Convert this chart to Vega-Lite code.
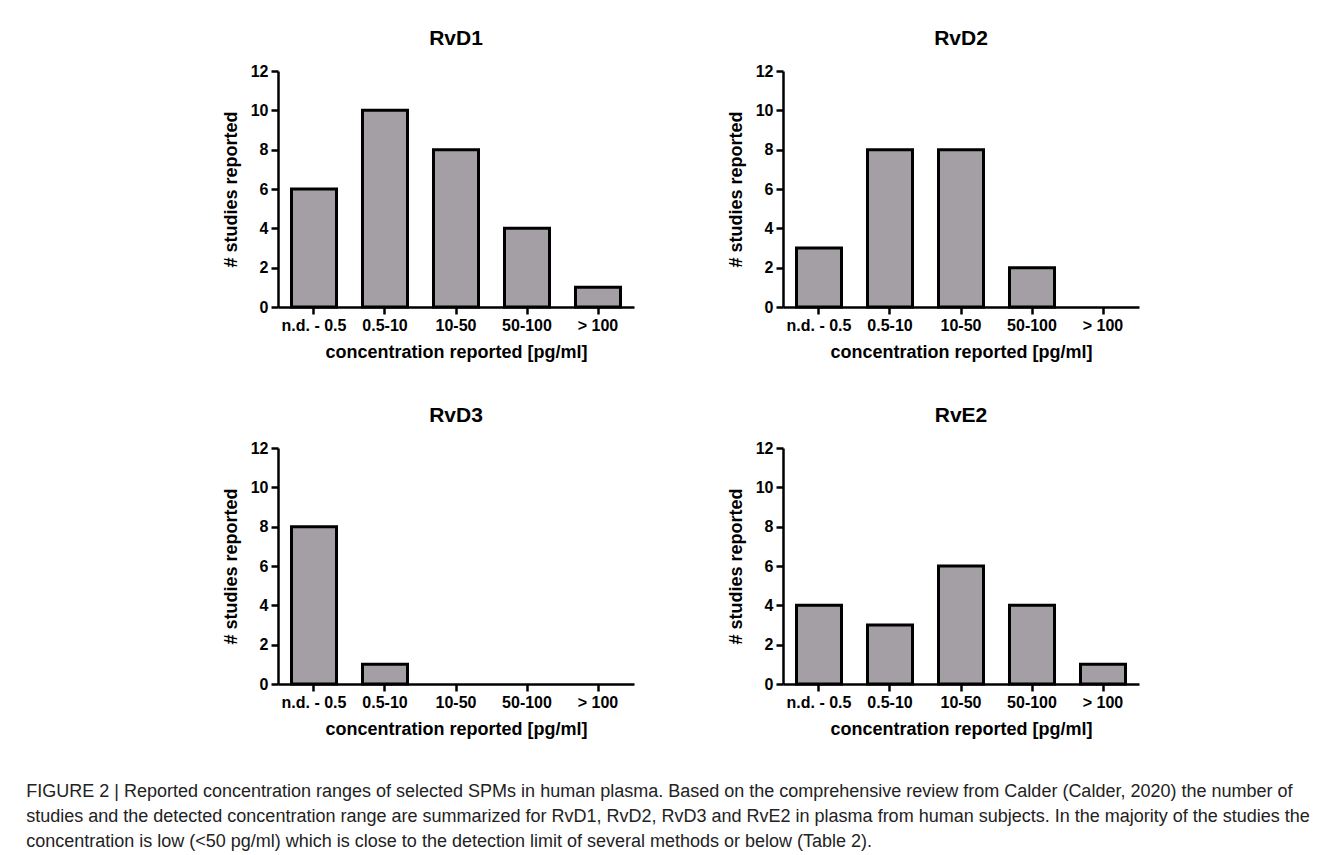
{
  "$schema": "https://vega.github.io/schema/vega-lite/v6.json",
  "background": "white",
  "padding": {"left": 26, "top": 28, "right": 4, "bottom": 0},
  "data": {"values": [
    {"panel": "RvD1", "range": "n.d. - 0.5", "count": 6},
    {"panel": "RvD1", "range": "0.5-10", "count": 10},
    {"panel": "RvD1", "range": "10-50", "count": 8},
    {"panel": "RvD1", "range": "50-100", "count": 4},
    {"panel": "RvD1", "range": "> 100", "count": 1},
    {"panel": "RvD2", "range": "n.d. - 0.5", "count": 3},
    {"panel": "RvD2", "range": "0.5-10", "count": 8},
    {"panel": "RvD2", "range": "10-50", "count": 8},
    {"panel": "RvD2", "range": "50-100", "count": 2},
    {"panel": "RvD3", "range": "n.d. - 0.5", "count": 8},
    {"panel": "RvD3", "range": "0.5-10", "count": 1},
    {"panel": "RvE2", "range": "n.d. - 0.5", "count": 4},
    {"panel": "RvE2", "range": "0.5-10", "count": 3},
    {"panel": "RvE2", "range": "10-50", "count": 6},
    {"panel": "RvE2", "range": "50-100", "count": 4},
    {"panel": "RvE2", "range": "> 100", "count": 1}
  ]},
  "title": {
    "text": [
      "FIGURE 2 | Reported concentration ranges of selected SPMs in human plasma. Based on the comprehensive review from Calder (Calder, 2020) the number of",
      "studies and the detected concentration range are summarized for RvD1, RvD2, RvD3 and RvE2 in plasma from human subjects. In the majority of the studies the",
      "concentration is low (<50 pg/ml) which is close to the detection limit of several methods or below (Table 2)."
    ],
    "orient": "bottom",
    "anchor": "start",
    "frame": "bounds",
    "dx": -196,
    "offset": 45,
    "font": "Liberation Sans",
    "fontSize": 18,
    "fontWeight": "normal",
    "color": "#222222",
    "lineHeight": 25
  },
  "columns": 2,
  "spacing": {"column": 93, "row": 44},
  "concat": [
    {
      "title": {"text": "RvD1"},
      "width": 356, "height": 236,
      "transform": [{"filter": "datum.panel === 'RvD1'"}],
      "mark": {"type": "bar", "fill": "#a49fa5", "stroke": "black", "strokeWidth": 3},
      "encoding": {
        "x": {"field": "range", "type": "nominal", "title": "concentration reported [pg/ml]",
              "scale": {"domain": ["n.d. - 0.5", "0.5-10", "10-50", "50-100", "> 100"], "paddingInner": 0.366, "paddingOuter": 0.19},
              "axis": {"labelAngle": 0}},
        "y": {"field": "count", "type": "quantitative", "title": "# studies reported",
              "scale": {"domain": [0, 12]}, "axis": {"values": [0, 2, 4, 6, 8, 10, 12]}}
      }
    },
    {
      "title": {"text": "RvD2"},
      "width": 356, "height": 236,
      "transform": [{"filter": "datum.panel === 'RvD2'"}],
      "mark": {"type": "bar", "fill": "#a49fa5", "stroke": "black", "strokeWidth": 3},
      "encoding": {
        "x": {"field": "range", "type": "nominal", "title": "concentration reported [pg/ml]",
              "scale": {"domain": ["n.d. - 0.5", "0.5-10", "10-50", "50-100", "> 100"], "paddingInner": 0.366, "paddingOuter": 0.19},
              "axis": {"labelAngle": 0}},
        "y": {"field": "count", "type": "quantitative", "title": "# studies reported",
              "scale": {"domain": [0, 12]}, "axis": {"values": [0, 2, 4, 6, 8, 10, 12]}}
      }
    },
    {
      "title": {"text": "RvD3"},
      "width": 356, "height": 236,
      "transform": [{"filter": "datum.panel === 'RvD3'"}],
      "mark": {"type": "bar", "fill": "#a49fa5", "stroke": "black", "strokeWidth": 3},
      "encoding": {
        "x": {"field": "range", "type": "nominal", "title": "concentration reported [pg/ml]",
              "scale": {"domain": ["n.d. - 0.5", "0.5-10", "10-50", "50-100", "> 100"], "paddingInner": 0.366, "paddingOuter": 0.19},
              "axis": {"labelAngle": 0}},
        "y": {"field": "count", "type": "quantitative", "title": "# studies reported",
              "scale": {"domain": [0, 12]}, "axis": {"values": [0, 2, 4, 6, 8, 10, 12]}}
      }
    },
    {
      "title": {"text": "RvE2"},
      "width": 356, "height": 236,
      "transform": [{"filter": "datum.panel === 'RvE2'"}],
      "mark": {"type": "bar", "fill": "#a49fa5", "stroke": "black", "strokeWidth": 3},
      "encoding": {
        "x": {"field": "range", "type": "nominal", "title": "concentration reported [pg/ml]",
              "scale": {"domain": ["n.d. - 0.5", "0.5-10", "10-50", "50-100", "> 100"], "paddingInner": 0.366, "paddingOuter": 0.19},
              "axis": {"labelAngle": 0}},
        "y": {"field": "count", "type": "quantitative", "title": "# studies reported",
              "scale": {"domain": [0, 12]}, "axis": {"values": [0, 2, 4, 6, 8, 10, 12]}}
      }
    }
  ],
  "config": {
    "view": {"stroke": null},
    "axis": {
      "grid": false,
      "domainColor": "black", "domainWidth": 2.5,
      "tickColor": "black", "tickWidth": 2.5, "tickSize": 7,
      "labelFont": "Liberation Sans", "labelFontWeight": "bold", "labelFontSize": 16, "labelColor": "black", "labelPadding": 3,
      "titleFont": "Liberation Sans", "titleFontWeight": "bold", "titleFontSize": 18, "titleColor": "black", "titlePadding": 10
    },
    "title": {"font": "Liberation Sans", "fontWeight": "bold", "fontSize": 21, "color": "black", "frame": "group", "offset": 14}
  }
}
